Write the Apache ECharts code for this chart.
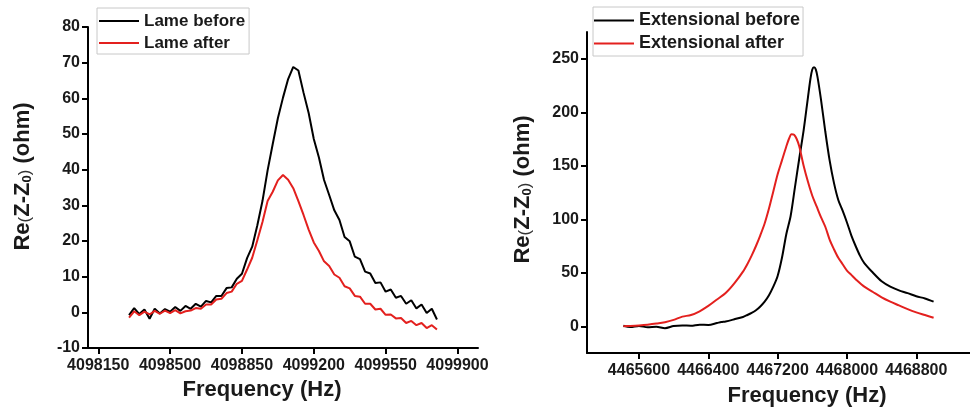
<!DOCTYPE html>
<html>
<head>
<meta charset="utf-8">
<script src="https://cdn.jsdelivr.net/npm/echarts@6/dist/echarts.min.js"></script>
<style>html,body{margin:0;padding:0;background:#fff}#c{width:970px;height:412px}</style>
</head>
<body>
<div id="c"></div>
<script>
// ---------- Lame mode (left panel) ----------
const lameFreq = [4098300,4098325,4098350,4098375,4098400,4098425,4098450,4098475,4098500,4098525,
  4098550,4098575,4098600,4098625,4098650,4098675,4098700,4098725,4098750,4098775,
  4098800,4098825,4098850,4098875,4098900,4098925,4098950,4098975,4099000,4099025,
  4099050,4099075,4099100,4099125,4099150,4099175,4099200,4099225,4099250,4099275,
  4099300,4099325,4099350,4099375,4099400,4099425,4099450,4099475,4099500,4099525,
  4099550,4099575,4099600,4099625,4099650,4099675,4099700,4099725,4099750,4099775,4099800];
const lameBefore = [-0.8,1.2,-0.5,0.8,-1.8,1.0,-0.3,0.9,0.2,1.5,
  0.4,1.8,1.0,2.4,1.6,3.2,2.8,4.6,4.6,6.8,
  7.0,9.4,10.8,15.2,18.4,24.4,31.2,39.8,47.2,54.4,
  60.2,65.4,68.8,67.8,61.6,55.9,48.6,43.4,37.1,32.9,
  28.6,25.9,21.1,19.9,15.6,14.9,11.4,10.9,8.2,8.4,
  5.8,6.4,4.1,4.6,2.4,3.4,1.1,2.2,-0.2,1.0,-2.0];
const lameAfter = [-1.5,0.3,-0.8,0.2,-0.6,0.4,-0.4,0.5,-0.2,0.6,
  -0.3,0.3,0.5,1.2,1.0,2.2,2.2,3.6,3.8,5.4,
  5.8,8.0,8.8,12.0,15.3,20.2,25.3,31.2,33.8,37.0,
  38.5,37.2,34.8,31.2,27.3,23.2,19.6,17.2,14.3,13.0,
  10.6,9.7,7.3,6.7,4.6,4.4,2.4,2.4,0.8,1.0,
  -0.7,-0.6,-1.7,-1.6,-3.0,-2.4,-3.6,-3.0,-4.4,-3.6,-4.8];
const lameXTicks = [4098150,4098500,4098850,4099200,4099550,4099900];

// ---------- Extensional mode (right panel) ----------
const extBeforeFreq = [4465420,4465500,4465600,4465700,4465800,4465900,4466000,4466100,4466200,4466300,
  4466400,4466500,4466550,4466600,4466700,4466800,4466850,4466900,4466950,4467000,
  4467050,4467100,4467150,4467200,4467250,4467300,4467350,4467400,4467450,4467500,
  4467550,4467580,4467600,4467620,4467640,4467660,4467700,4467750,4467800,4467850,4467900,4467950,
  4468000,4468050,4468100,4468150,4468200,4468300,4468400,4468500,4468600,4468700,
  4468800,4468900,4469000];
const extBeforeVal = [0.5,-0.8,0.3,-1.0,-0.5,-1.8,0.2,0.8,0.5,1.5,
  1.2,3.0,4.0,4.5,6.5,8.7,10.5,12.5,15,18.5,
  23,29,37,47,64,86,103,130,157,183,
  214,232,240,242,240,233,212,182,155,134,118,108,
  97,85,75,66,59,50,42,37,33.5,31,
  28,26,23];
const extAfterFreq = [4465420,4465500,4465600,4465700,4465800,4465900,4466000,4466100,4466200,4466300,
  4466400,4466500,4466600,4466700,4466800,4466850,4466900,4466950,4467000,4467050,
  4467100,4467150,4467200,4467250,4467300,4467330,4467360,4467390,4467420,4467450,4467500,
  4467550,4467600,4467650,4467700,4467750,4467800,4467850,4467900,4467950,4468000,
  4468050,4468100,4468200,4468300,4468400,4468500,4468600,4468700,4468800,4468900,4469000];
const extAfterVal = [0,0.3,0.8,1.5,2.5,3.8,6,9,10.5,14,
  19,25,31,40,51,58,66,75,85,96,
  110,126,142,155,168,175,179.5,179,175,168,150,
  135,122,112,102,93,81,72,64,58,52,
  48,44,37,32,27,23,19.5,16,13,10.5,8];
const extXTicks = [4465600,4466400,4467200,4468000,4468800];
const extYTicks = [0,50,100,150,200,250];

const pairs = (xs, ys) => xs.map((x, i) => [x, ys[i]]);

const BLACK = '#000000', RED = '#e3201e';
const FONT = '"Liberation Sans", Arial, sans-serif';

const tickLabel = {
  fontFamily: FONT, fontWeight: 'bold', fontSize: 16, color: '#1a1a1a'
};
const yName = '{t|Re}{p|(}{t|Z-Z}{s|0}{p|)}{t| (ohm)}';
const yRich = {
  t: { fontFamily: FONT, fontWeight: 'bold', fontSize: 22, color: '#1a1a1a', verticalAlign: 'bottom', lineHeight: 26 },
  p: { fontFamily: FONT, fontWeight: 'normal', fontSize: 17, color: '#333', verticalAlign: 'bottom', lineHeight: 24 },
  s: { fontFamily: FONT, fontWeight: 'bold', fontSize: 13, color: '#1a1a1a', verticalAlign: 'bottom', lineHeight: 13 }
};
const axisLine = { show: true, onZero: false, lineStyle: { color: '#000', width: 2 } };
const axisTick = { show: true, length: 6, lineStyle: { color: '#000', width: 2 } };

const chart = echarts.init(document.getElementById('c'), null, { renderer: 'canvas' });
chart.setOption({
  animation: false,
  backgroundColor: '#ffffff',
  grid: [
    { left: 88, top: 27, width: 390, height: 321 },
    { left: 587, top: 32, right: 0, height: 321 }
  ],
  legend: [
    {
      data: ['Lame before', 'Lame after'],
      orient: 'vertical', left: 97, top: 8,
      icon: 'rect', itemWidth: 40, itemHeight: 2, itemGap: 2,
      padding: [3, 4, 1, 2],
      borderColor: '#c8c8c8', borderWidth: 1,
      textStyle: { fontFamily: FONT, fontWeight: 'bold', fontSize: 17, color: '#1a1a1a', lineHeight: 20 }
    },
    {
      data: ['Extensional before', 'Extensional after'],
      orient: 'vertical', left: 593, top: 7,
      icon: 'rect', itemWidth: 40, itemHeight: 2, itemGap: 2,
      padding: [3, 3, 2, 1],
      borderColor: '#c8c8c8', borderWidth: 1,
      textStyle: { fontFamily: FONT, fontWeight: 'bold', fontSize: 18, color: '#1a1a1a', lineHeight: 21 }
    }
  ],
  xAxis: [
    {
      type: 'value', gridIndex: 0, min: 4098100, max: 4100000,
      axisLine, axisTick: Object.assign({ customValues: lameXTicks }, axisTick),
      axisLabel: Object.assign({ customValues: lameXTicks, margin: 10, formatter: v => String(v) }, tickLabel),
      splitLine: { show: false },
      name: 'Frequency (Hz)', nameLocation: 'middle', nameGap: 31,
      nameTextStyle: { fontFamily: FONT, fontWeight: 'bold', fontSize: 22, color: '#1a1a1a', padding: [0, 42, 0, 0] }
    },
    {
      type: 'value', gridIndex: 1, min: 4465000, max: 4469420,
      axisLine, axisTick: Object.assign({ customValues: extXTicks }, axisTick),
      axisLabel: Object.assign({ customValues: extXTicks, margin: 10, formatter: v => String(v) }, tickLabel),
      splitLine: { show: false },
      name: 'Frequency (Hz)', nameLocation: 'middle', nameGap: 32,
      nameTextStyle: { fontFamily: FONT, fontWeight: 'bold', fontSize: 22, color: '#1a1a1a', padding: [0, 0, 0, 57] }
    }
  ],
  yAxis: [
    {
      type: 'value', gridIndex: 0, min: -10, max: 80, interval: 10,
      axisLine, axisTick,
      axisLabel: Object.assign({ margin: 8 }, tickLabel),
      splitLine: { show: false },
      name: yName, nameLocation: 'middle', nameGap: 54,
      nameTextStyle: { rich: yRich, padding: [0, 0, 0, 22] }
    },
    {
      type: 'value', gridIndex: 1, min: -25, max: 275,
      axisLine, axisTick: Object.assign({ customValues: extYTicks }, axisTick),
      axisLabel: Object.assign({ customValues: extYTicks, margin: 8 }, tickLabel),
      splitLine: { show: false },
      name: yName, nameLocation: 'middle', nameGap: 53,
      nameTextStyle: { rich: yRich, padding: [0, 0, 0, 6] }
    }
  ],
  series: [
    { name: 'Lame before', type: 'line', xAxisIndex: 0, yAxisIndex: 0, showSymbol: false,
      data: pairs(lameFreq, lameBefore), lineStyle: { color: BLACK, width: 2 }, itemStyle: { color: BLACK } },
    { name: 'Lame after', type: 'line', xAxisIndex: 0, yAxisIndex: 0, showSymbol: false,
      data: pairs(lameFreq, lameAfter), lineStyle: { color: RED, width: 2 }, itemStyle: { color: RED } },
    { name: 'Extensional before', type: 'line', xAxisIndex: 1, yAxisIndex: 1, showSymbol: false, smooth: 0.3,
      data: pairs(extBeforeFreq, extBeforeVal), lineStyle: { color: BLACK, width: 2 }, itemStyle: { color: BLACK } },
    { name: 'Extensional after', type: 'line', xAxisIndex: 1, yAxisIndex: 1, showSymbol: false, smooth: 0.3,
      data: pairs(extAfterFreq, extAfterVal), lineStyle: { color: RED, width: 2 }, itemStyle: { color: RED } }
  ]
});
</script>
</body>
</html>
